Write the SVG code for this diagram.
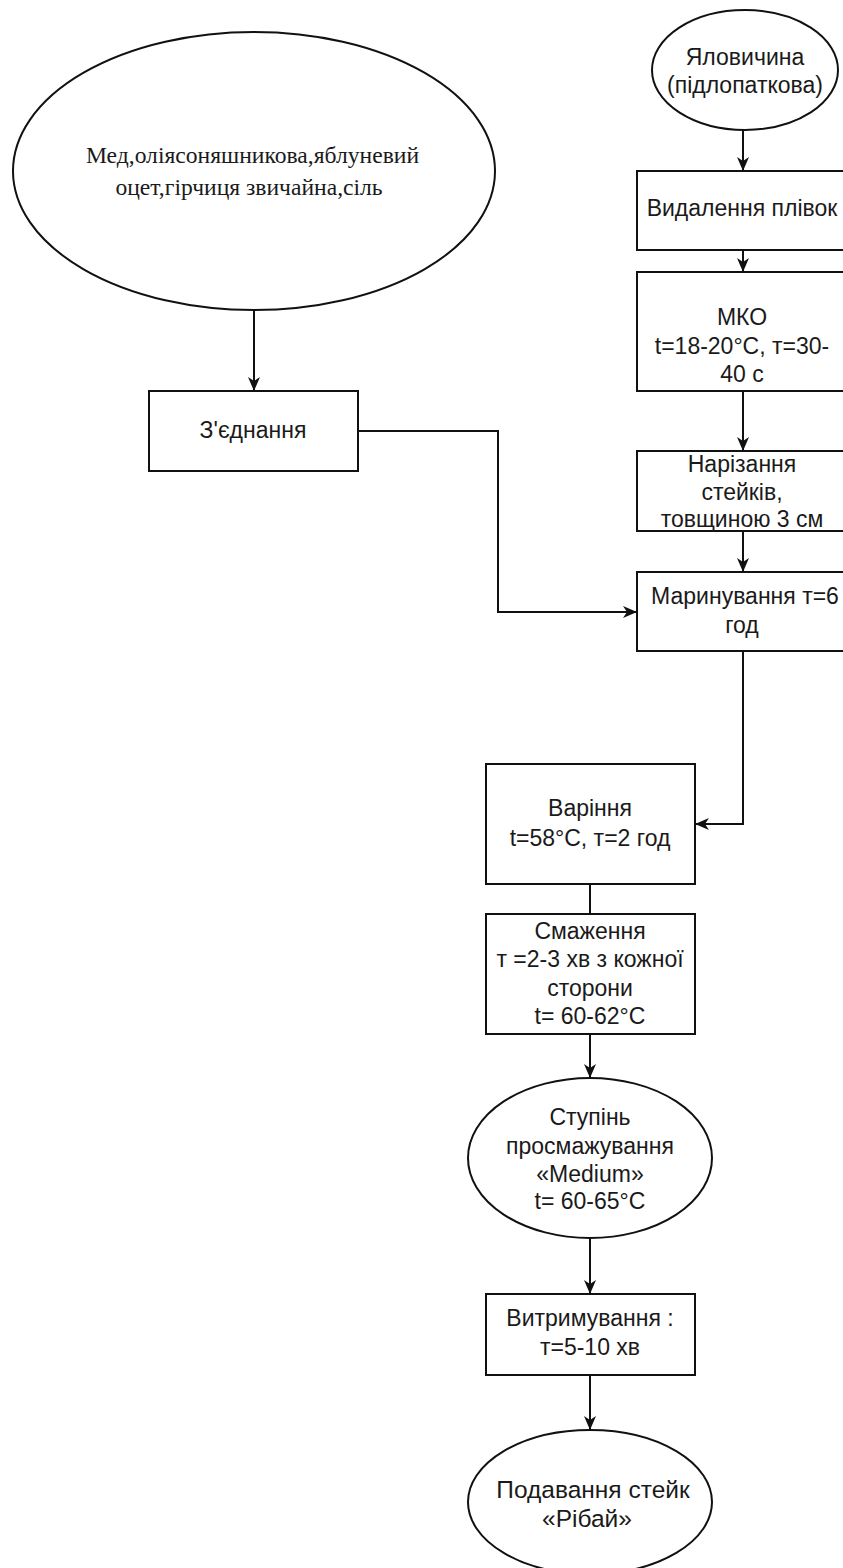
<svg xmlns="http://www.w3.org/2000/svg" width="843" height="1568" viewBox="0 0 843 1568">
  <style>
    .shape { fill: #ffffff; stroke: #111111; stroke-width: 2; }
    .edge { fill: none; stroke: #111111; stroke-width: 2; }
    .lbl { font-family: "Liberation Sans", Arial, sans-serif; font-size: 23px; fill: #1a1a1a; text-anchor: middle; }
    .lbl-serif { font-family: "Liberation Serif", "Times New Roman", serif; font-size: 23.6px; fill: #1a1a1a; text-anchor: middle; }
  </style>
  <defs>
    <marker id="arrow" viewBox="0 0 14 12" refX="14" refY="6" markerWidth="14" markerHeight="12" markerUnits="userSpaceOnUse" orient="auto">
      <path d="M0,0 L14,6 L0,12 L4,6 Z" fill="#111111"/>
    </marker>
  </defs>
  <rect width="843" height="1568" fill="#ffffff"/>

  <!-- connectors -->
  <g id="connectors">
    <path class="edge" d="M254,311 L254,391" marker-end="url(#arrow)"/>
    <path class="edge" d="M358,431 L498,431 L498,612 L637,612" marker-end="url(#arrow)"/>
    <path class="edge" d="M743,130 L743,171" marker-end="url(#arrow)"/>
    <path class="edge" d="M743,250 L743,272" marker-end="url(#arrow)"/>
    <path class="edge" d="M743,391 L743,451" marker-end="url(#arrow)"/>
    <path class="edge" d="M743,531 L743,572" marker-end="url(#arrow)"/>
    <path class="edge" d="M743,651 L743,824 L695,824" marker-end="url(#arrow)"/>
    <path class="edge" d="M590,884 L590,914"/>
    <path class="edge" d="M590,1034 L590,1078" marker-end="url(#arrow)"/>
    <path class="edge" d="M590,1238 L590,1294" marker-end="url(#arrow)"/>
    <path class="edge" d="M590,1375 L590,1430" marker-end="url(#arrow)"/>
  </g>

  <!-- marinade ingredients -->
  <g id="ingredients">
    <ellipse class="shape" cx="254" cy="171" rx="241" ry="139"/>
    <text class="lbl-serif" x="252.5" y="163">Мед,оліясоняшникова,яблуневий</text>
    <text class="lbl-serif" x="249" y="195">оцет,гірчиця звичайна,сіль</text>
  </g>

  <g id="mixing">
    <rect class="shape" x="149" y="391" width="209" height="80"/>
    <text class="lbl" x="253" y="438">З'єднання</text>
  </g>

  <g id="beef">
    <ellipse class="shape" cx="745" cy="70" rx="93" ry="60"/>
    <text class="lbl" x="745" y="65">Яловичина</text>
    <text class="lbl" x="745" y="93">(підлопаткова)</text>
  </g>

  <g id="trimming">
    <rect class="shape" x="637" y="171" width="210" height="79"/>
    <text class="lbl" x="742" y="216">Видалення плівок</text>
  </g>

  <g id="washing">
    <rect class="shape" x="637" y="272" width="210" height="119"/>
    <text class="lbl" x="742" y="325">МКО</text>
    <text class="lbl" x="742" y="354">t=18-20°C, т=30-</text>
    <text class="lbl" x="742" y="382">40 с</text>
  </g>

  <g id="cutting">
    <rect class="shape" x="637" y="451" width="210" height="80"/>
    <text class="lbl" x="742" y="472">Нарізання</text>
    <text class="lbl" x="742" y="500">стейків,</text>
    <text class="lbl" x="742" y="527">товщиною 3 см</text>
  </g>

  <g id="marinating">
    <rect class="shape" x="637" y="572" width="210" height="79"/>
    <text class="lbl" x="745" y="604">Маринування т=6</text>
    <text class="lbl" x="742" y="633">год</text>
  </g>

  <g id="sous-vide">
    <rect class="shape" x="486" y="764" width="209" height="120"/>
    <text class="lbl" x="590" y="816">Варіння</text>
    <text class="lbl" x="590" y="846">t=58°C, т=2 год</text>
  </g>

  <g id="searing">
    <rect class="shape" x="486" y="914" width="209" height="120"/>
    <text class="lbl" x="590" y="939">Смаження</text>
    <text class="lbl" x="590" y="967">т =2-3 хв з кожної</text>
    <text class="lbl" x="590" y="996">сторони</text>
    <text class="lbl" x="590" y="1024">t= 60-62°C</text>
  </g>

  <g id="doneness">
    <ellipse class="shape" cx="590" cy="1158" rx="122" ry="80"/>
    <text class="lbl" x="590" y="1125">Ступінь</text>
    <text class="lbl" x="590" y="1154">просмажування</text>
    <text class="lbl" x="590" y="1182">«Medium»</text>
    <text class="lbl" x="590" y="1209">t= 60-65°C</text>
  </g>

  <g id="resting">
    <rect class="shape" x="486" y="1294" width="209" height="81"/>
    <text class="lbl" x="590" y="1326">Витримування :</text>
    <text class="lbl" x="590" y="1355">т=5-10 хв</text>
  </g>

  <g id="serving">
    <ellipse class="shape" cx="590" cy="1502" rx="122" ry="72"/>
    <text class="lbl" x="593" y="1498" style="font-size:24.5px">Подавання стейк</text>
    <text class="lbl" x="587" y="1527" style="font-size:24.5px">«Рібай»</text>
  </g>
</svg>
